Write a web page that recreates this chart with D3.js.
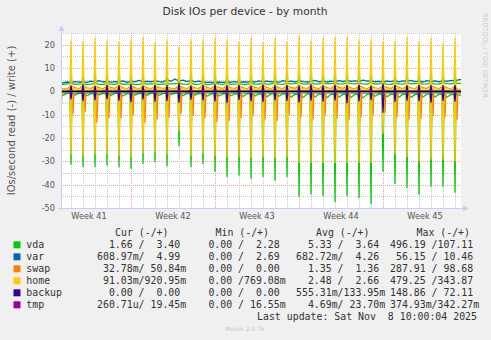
<!DOCTYPE html>
<html>
<head>
<meta charset="utf-8">
<script src="https://cdn.jsdelivr.net/npm/d3@7"></script>
<style>
  html, body { margin: 0; padding: 0; background: #F0F0F0; }
  svg { display: block; }
  .mono { font-family: "DejaVu Sans Mono", monospace; }
  .sans { font-family: "DejaVu Sans", sans-serif; }
</style>
</head>
<body>
<svg id="chart" width="491" height="340"></svg>
<script>
// ---------------------------------------------------------------------------
// Data: Disk IOs per device, month view (2 h per pixel, UTC)
// ---------------------------------------------------------------------------
const HOUR = 3600e3;
const viewStart = Date.UTC(2025, 9, 7, 4);   // Tue Oct 7 04:00
const viewEnd   = Date.UTC(2025, 10, 9, 12); // Sun Nov 9 12:00
const sampleStart = Date.UTC(2025, 9, 7, 0); // first baseline sample / first nightly job

const devices = ["vda", "var", "swap", "home", "backup", "tmp"];
const deviceColors = ["#00CC00", "#0066B3", "#FF8000", "#FFCC00", "#330099", "#990099"];

const yTicks = [-50, -40, -30, -20, -10, 0, 10, 20];

// Baselines sampled every 8 h (00:00, 08:00, 16:00), Oct 7 00:00 .. Nov 9 16:00
const vdaWriteBase = [
  3.1,3.0,3.2, 3.3,3.0,3.1, 3.2,2.9,3.1, 3.3,3.0,3.0, 3.2,3.1,3.0, 3.4,3.0,3.1, 3.2,2.9,3.0, 3.3,3.1,3.2, 3.2,3.0,3.1, 3.1,3.2,3.3,
  3.4,3.1,3.0, 3.3,3.0,3.1, 3.3,2.9,3.0, 3.4,3.1,3.0, 3.3,3.0,3.1, 3.2,3.0,3.0, 3.3,3.1,3.1, 3.4,3.0,3.2, 3.3,3.1,3.0, 3.4,3.2,3.3,
  3.5,3.2,3.1, 3.4,3.1,3.2, 3.5,3.2,3.3, 3.4,3.1,3.2, 3.5,3.3,3.2, 3.4,3.2,3.1, 3.5,3.1,3.2, 3.3,3.1,3.0, 3.4,3.2,3.1, 3.5,3.2,3.3,
  3.4,3.1,3.2, 3.4,3.2,3.1, 3.5,3.3,3.2, 3.4,3.40,3.40
];
const vdaReadBase = [
  -1.0,-1.8,-0.9, -0.9,-1.6,-0.8, -1.0,-1.9,-1.0, -0.9,-1.5,-0.9, -1.1,-1.7,-0.8, -1.0,-2.0,-1.0, -0.9,-1.6,-0.9, -1.0,-1.7,-0.8, -0.9,-1.8,-0.9, -0.8,-1.4,-0.8,
  -1.0,-1.9,-1.0, -0.9,-1.6,-0.9, -1.1,-2.1,-1.1, -1.0,-2.0,-1.0, -1.1,-1.9,-1.1, -1.0,-2.2,-1.0, -1.1,-2.0,-1.1, -1.2,-2.3,-1.1, -1.1,-2.1,-1.0, -1.2,-2.5,-1.2,
  -1.3,-2.6,-1.2, -1.2,-2.4,-1.1, -1.3,-2.7,-1.3, -1.2,-2.5,-1.2, -1.3,-2.6,-1.2, -1.4,-2.8,-1.3, -1.1,-2.1,-1.1, -1.2,-2.3,-1.2, -1.3,-2.5,-1.2, -1.3,-2.6,-1.3,
  -1.2,-2.4,-1.2, -1.2,-2.4,-1.2, -1.3,-2.5,-1.3, -1.4,-1.66,-1.66
];
const varWriteBase = [
  3.8,3.6,4.0, 3.7,4.2,3.9, 4.1,3.8,4.4, 3.9,4.6,4.0, 4.3,3.9,4.2, 4.0,4.5,3.8, 4.4,4.1,4.7, 4.0,4.3,4.1, 4.5,4.2,4.0, 5.0,4.3,5.3,
  4.4,4.8,4.2, 4.6,4.1,4.4, 4.0,3.8,3.9, 3.7,4.0,3.8, 4.1,3.9,4.2, 3.8,4.1,3.9, 4.3,4.0,4.5, 4.0,4.4,4.1, 4.2,3.9,4.6, 4.1,4.4,4.0,
  4.6,4.2,4.0, 4.3,4.7,4.1, 4.5,4.0,4.4, 4.1,4.6,4.2, 4.7,4.3,4.5, 4.2,4.8,4.4, 4.5,4.1,4.3, 4.0,4.4,4.2, 4.6,4.1,4.5, 4.3,4.7,4.2,
  4.4,4.0,4.6, 4.2,4.5,4.1, 4.6,4.3,4.7, 4.4,4.99,4.99
];
const swapWriteBase = [
  1.2,1.1,1.0, 2.3,1.6,1.1, 2.5,1.5,1.2, 2.2,1.6,1.1, 2.4,1.7,1.2, 2.6,1.5,1.1, 2.3,1.6,1.0, 2.4,1.5,1.1, 2.2,1.6,1.2, 1.8,1.3,1.0,
  2.5,1.6,1.1, 2.3,1.5,1.2, 2.6,1.7,1.1, 2.4,1.6,1.2, 2.5,1.5,1.1, 2.3,1.6,1.0, 2.4,1.7,1.2, 2.6,1.6,1.1, 2.3,1.5,1.1, 2.5,1.7,1.2,
  2.4,1.6,1.1, 2.5,1.5,1.2, 2.3,1.6,1.1, 2.6,1.7,1.2, 2.4,1.5,1.0, 2.5,1.6,1.1, 2.2,1.5,1.1, 2.4,1.6,1.2, 2.5,1.7,1.1, 2.3,1.5,1.1,
  2.4,1.6,1.2, 2.5,1.6,1.1, 2.4,1.5,1.0, 2.2,0.05,0.05
];
const homeWriteBase = [
  0.9,0.9,0.85, 0.9,1.1,0.9, 0.9,1.2,0.9, 0.95,1.1,0.85, 0.9,1.0,0.9, 0.9,1.2,0.95, 0.9,1.1,0.85, 0.9,1.0,0.9, 0.95,1.1,0.9, 0.9,1.0,0.85,
  0.9,1.1,0.9, 0.9,1.2,0.9, 0.95,1.1,0.85, 0.9,1.0,0.9, 0.9,1.1,0.9, 0.9,1.2,0.85, 0.95,1.1,0.9, 0.9,1.0,0.9, 0.9,1.1,0.85, 0.95,1.2,0.9,
  0.9,1.1,0.9, 0.9,1.0,0.85, 0.95,1.2,0.9, 0.9,1.1,0.9, 0.9,1.0,0.85, 0.95,1.1,0.9, 0.9,1.2,0.9, 0.9,1.0,0.85, 0.95,1.1,0.9, 0.9,1.2,0.9,
  0.9,1.1,0.85, 0.95,1.0,0.9, 0.9,1.1,0.9, 0.9,0.92,0.92
];

// Baselines sampled daily at 00:00, Oct 7 .. Nov 10
const varReadBase = [-0.6,-0.7,-0.6,-0.65,-0.7,-0.6,-0.65,-0.6,-0.7,-0.75,-0.65,-0.6,-0.7,-0.65,-0.6,-0.7,-0.65,-0.6,
  -0.7,-0.65,-0.7,-0.6,-0.65,-0.7,-0.6,-0.65,-0.7,-0.6,-0.65,-0.7,-0.6,-0.65,-0.6,-0.61,-0.61];
const swapReadBase = [-0.05,-0.04,-0.06,-0.05,-0.04,-0.05,-0.06,-0.05,-0.04,-0.05,-0.06,-0.05,-0.04,-0.05,-0.05,-0.06,-0.04,-0.05,
  -0.05,-0.06,-0.05,-0.04,-0.05,-0.06,-0.05,-0.04,-0.05,-0.05,-0.06,-0.04,-0.05,-0.05,-0.04,-0.033,-0.033];
const homeReadBase = [-0.12,-0.1,-0.11,-0.09,-0.1,-0.12,-0.1,-0.11,-0.1,-0.09,-0.11,-0.1,-0.12,-0.1,-0.11,-0.1,-0.09,-0.1,
  -0.11,-0.12,-0.1,-0.1,-0.11,-0.09,-0.1,-0.12,-0.1,-0.11,-0.1,-0.09,-0.1,-0.11,-0.1,-0.091,-0.091];

// Nearly flat baselines: one value at the start and one at the end of the window
const backupReadBase = [0, 0];
const backupWriteBase = [0, 0];
const tmpReadBase = [-0.004, -0.00026];
const tmpWriteBase = [0.024, 0.019];

// Nightly job peaks, one per night at 00:00, Oct 7 .. Nov 9 (34 nights)
const homeWritePeak = [22.0, 21.7,21.3,22.6,21.7,21.3,22.2,23.0,20.9,22.2,19.1,22.2,22.2,22.6,22.2,21.3,22.6,20.9,
  22.6,21.3,23.4,21.7,22.6,23.0,23.0,22.2,22.2,21.3,21.3,23.0,21.3,22.6,20.4,22.6];
const homeReadPeak = [-27, -27,-27.5,-27,-27,-27.5,-28,-26.5,-26,-27,-17,-27.5,-26.5,-27.5,-28,-28,-28.5,-28,
  -28.5,-28,-30.5,-30.5,-30.5,-30.5,-30.5,-30.5,-30.5,-18,-27,-28,-30,-29,-29,-30];
const vdaReadPeak = [-31.0, -31.2,-32.2,-32.2,-31.6,-32.3,-33.0,-30.9,-30.2,-31.9,-23.3,-32.2,-30.9,-34.3,-36.5,-35.9,-37.2,-36.5,
  -38.1,-36.5,-45.0,-44.0,-44.7,-47.3,-44.7,-45.5,-48.1,-34.3,-39.5,-41.2,-44.1,-40.7,-40.7,-43.3];
const vdaWritePeak = [8, 7.5,8,8,7.5,8,8.5,7.5,7,8,6,8,7.5,8,8.5,8,8.5,8,9,8.5,9.5,9,9.5,9.5,9,9.5,9.5,7,8,8.5,9,8.5,8.5,9];
// swap reads dip a little after the job starts (04:00)
const swapReadPeak = [-11.3, -9.6,-8.6,-13.2,-11.3,-11.3,-10.3,-13.4,-11.8,-11.1,-9.5,-10.3,-11.3,-12.9,-12.5,-11.3,-10.5,-12,
  -12.5,-10,-11,-12,-10.5,-11.5,-12,-11,-10.5,-9,-11,-12,-11.5,-10.5,-11,-12];
const backupWritePeak = [2.5,2.3,2.8,2.1,2.6,2.4,3.0,2.2,2.7,2.5,3.4,2.3,2.6,2.9,2.4,2.7,2.2,2.8,2.5,2.6,2.3,2.9,2.4,2.7,
  2.5,2.8,2.2,3.1,2.6,2.4,2.7,2.5,2.3,2.6];
const backupReadPeak = [-3.5,-3.2,-4.0,-3.6,-3.1,-3.8,-4.4,-3.3,-4.2,-3.9,-4.6,-3.4,-3.7,-4.1,-4.8,-3.5,-4.0,-4.3,-3.6,-3.9,
  -4.5,-3.8,-4.2,-3.7,-4.9,-4.1,-3.6,-8.9,-4.3,-3.8,-4.0,-4.6,-3.9,-4.2];

// Legend statistics: [read, write] per device
const statCur = [[1.66, 3.40], [0.60897, 4.99], [0.03278, 0.05084], [0.09103, 0.92095], [0, 0], [0.00026071, 0.01945]];
const statMin = [[0, 2.28], [0, 2.69], [0, 0], [0, 0.76908], [0, 0], [0, 0.01655]];
const statAvg = [[5.33, 3.64], [0.68272, 4.26], [1.35, 1.36], [2.48, 2.66], [0.55531, 0.13395], [0.00469, 0.02370]];
const statMax = [[496.19, 107.11], [56.15, 10.46], [287.91, 98.68], [479.25, 343.87], [148.86, 72.11], [0.37493, 0.34227]];
const statHeaders = ["Cur (-/+)", "Min (-/+)", "Avg (-/+)", "Max (-/+)"];
const lastUpdate = "Last update: Sat Nov  8 10:00:04 2025";

// ---------------------------------------------------------------------------
// Series: read (drawn below zero) and write lines for every device
// ---------------------------------------------------------------------------
const seriesDefs = [
  { dev: 0, base: vdaReadBase,     stepH: 8,   peaks: vdaReadPeak,     peakH: 0 },
  { dev: 0, base: vdaWriteBase,    stepH: 8,   peaks: vdaWritePeak,    peakH: 0 },
  { dev: 1, base: varReadBase,     stepH: 24,  peaks: null },
  { dev: 1, base: varWriteBase,    stepH: 8,   peaks: null },
  { dev: 2, base: swapReadBase,    stepH: 24,  peaks: swapReadPeak,    peakH: 4 },
  { dev: 2, base: swapWriteBase,   stepH: 8,   peaks: null },
  { dev: 3, base: homeReadBase,    stepH: 24,  peaks: homeReadPeak,    peakH: 0 },
  { dev: 3, base: homeWriteBase,   stepH: 8,   peaks: homeWritePeak,   peakH: 0 },
  { dev: 4, base: backupReadBase,  stepH: 840, peaks: backupReadPeak,  peakH: 0 },
  { dev: 4, base: backupWriteBase, stepH: 840, peaks: backupWritePeak, peakH: 0 },
  { dev: 5, base: tmpReadBase,     stepH: 840, peaks: null },
  { dev: 5, base: tmpWriteBase,    stepH: 840, peaks: null }
];

// Baseline samples plus the nightly peaks; each peak lasts one 2 h sample.
function buildPoints(def) {
  const basePts = def.base.map((v, i) => ({ t: sampleStart + i * def.stepH * HOUR, v }));
  if (!def.peaks) return basePts;
  const peakTimes = def.peaks.map((_, k) => sampleStart + (k * 24 + def.peakH) * HOUR);
  const kept = basePts.filter(p => !peakTimes.some(t => Math.abs(p.t - t) <= 2 * HOUR));
  const extra = [];
  def.peaks.forEach((v, k) => {
    const t = peakTimes[k];
    let level = basePts[0].v;
    basePts.forEach(p => { if (p.t <= t) level = p.v; });
    extra.push({ t: t - 2 * HOUR, v: level }, { t, v }, { t: t + 2 * HOUR, v: level });
  });
  return kept.concat(extra).sort((a, b) => a.t - b.t);
}

// ---------------------------------------------------------------------------
// Drawing
// ---------------------------------------------------------------------------
const svg = d3.select("#chart");
const plot = { left: 61, right: 461, top: 33, bottom: 208 };
const nb = s => s.replace(/ /g, "\u00A0");   // keep the monospace columns

const x = d3.scaleUtc().domain([viewStart, viewEnd]).range([plot.left, plot.right]);
const y = d3.scaleLinear().domain([-50, 25]).range([plot.bottom, plot.top]);

svg.append("rect").attr("width", 491).attr("height", 340).attr("fill", "#F0F0F0");
svg.append("rect")
  .attr("x", plot.left).attr("y", plot.top)
  .attr("width", plot.right - plot.left).attr("height", plot.bottom - plot.top)
  .attr("fill", "#FFFFFF");

// Title
svg.append("text").attr("class", "sans")
  .attr("x", 245).attr("y", 14.5).attr("text-anchor", "middle")
  .attr("font-size", 10.7).attr("fill", "#333")
  .text("Disk IOs per device - by month");

// Grid
const grid = svg.append("g");
const minorColor = "#C8C8C8", majorColor = "#E8A0A0";
const yGrid = d3.range(-45, 26, 5);
yGrid.forEach(v => {
  const major = v % 10 === 0;
  grid.append("line")
    .attr("x1", plot.left).attr("x2", plot.right)
    .attr("y1", Math.round(y(v)) + 0.5).attr("y2", Math.round(y(v)) + 0.5)
    .attr("stroke", major ? majorColor : minorColor)
    .attr("stroke-dasharray", "1,1");
});
const days = d3.utcDay.range(viewStart, viewEnd);
days.forEach(d => {
  const monday = d.getUTCDay() === 1;
  const xp = Math.round(x(d)) + 0.5;
  grid.append("line")
    .attr("x1", xp).attr("x2", xp)
    .attr("y1", plot.top).attr("y2", plot.bottom)
    .attr("stroke", monday ? majorColor : minorColor)
    .attr("stroke-dasharray", "1,1");
});

// Data lines
const clip = svg.append("clipPath").attr("id", "plotClip");
clip.append("rect").attr("x", plot.left).attr("y", plot.top)
  .attr("width", plot.right - plot.left).attr("height", plot.bottom - plot.top);

const line = d3.line().x(p => x(p.t)).y(p => y(p.v));
const lines = svg.append("g").attr("clip-path", "url(#plotClip)");
seriesDefs.forEach(def => {
  lines.append("path")
    .datum(buildPoints(def))
    .attr("d", line)
    .attr("fill", "none")
    .attr("stroke", deviceColors[def.dev])
    .attr("stroke-width", 1.3)
    .attr("stroke-linejoin", "round");
});
// zero line
lines.append("line")
  .attr("x1", plot.left).attr("x2", plot.right)
  .attr("y1", Math.round(y(0)) + 0.5).attr("y2", Math.round(y(0)) + 0.5)
  .attr("stroke", "#000").attr("stroke-width", 1);

// Axes with arrows
const axisColor = "#C6CEF4";
svg.append("line")
  .attr("x1", plot.left + 0.5).attr("x2", plot.left + 0.5)
  .attr("y1", plot.bottom + 3).attr("y2", 30)
  .attr("stroke", axisColor);
svg.append("path")
  .attr("d", `M${plot.left - 2.5},31 L${plot.left + 3.5},31 L${plot.left + 0.5},25 Z`)
  .attr("fill", axisColor);
svg.append("line")
  .attr("x1", plot.left - 3).attr("x2", plot.right + 3)
  .attr("y1", plot.bottom + 0.5).attr("y2", plot.bottom + 0.5)
  .attr("stroke", axisColor);
svg.append("path")
  .attr("d", `M${plot.right + 2},${plot.bottom - 2.5} L${plot.right + 2},${plot.bottom + 3.5} L${plot.right + 8},${plot.bottom + 0.5} Z`)
  .attr("fill", axisColor);

// Y tick labels
svg.append("g").selectAll("text").data(yTicks).join("text")
  .attr("class", "sans")
  .attr("x", 55).attr("y", d => y(d)).attr("dy", "0.35em")
  .attr("text-anchor", "end").attr("font-size", 8.2).attr("fill", "#555")
  .text(d => d);

// X labels: one per ISO week, centred on the middle of the week
const mondays = d3.utcMonday.range(d3.utcMonday.offset(viewStart, -1), viewEnd);
const weekLabels = mondays
  .map(m => ({ t: +m + 3.5 * 24 * HOUR, label: "Week " + d3.utcFormat("%V")(m) }))
  .filter(w => x(w.t) > plot.left + 10 && x(w.t) < plot.right - 10);
svg.append("g").selectAll("text").data(weekLabels).join("text")
  .attr("class", "sans")
  .attr("x", d => x(d.t)).attr("y", 218.5)
  .attr("text-anchor", "middle").attr("font-size", 8.2).attr("fill", "#555")
  .text(d => d.label);

// Y axis title
svg.append("text").attr("class", "sans")
  .attr("transform", `translate(15,${(plot.top + plot.bottom) / 2}) rotate(-90)`)
  .attr("text-anchor", "middle").attr("font-size", 10).attr("fill", "#555")
  .text("IOs/second read (-) / write (+)");

// Vertical credit on the right
svg.append("text").attr("class", "sans")
  .attr("transform", "translate(482.5,13) rotate(90)")
  .attr("font-size", 6.6).attr("fill", "#CCCCCC")
  .text("RRDTOOL / TOBI OETIKER");

// Legend
function si(v) {
  if (v === 0) return "  0.00 ";
  const a = Math.abs(v);
  if (a < 1e-3) return d3.format("6.2f")(v * 1e6) + "u";
  if (a < 1) return d3.format("6.2f")(v * 1e3) + "m";
  return d3.format("6.2f")(v) + " ";
}
const legend = svg.append("g").attr("class", "mono").attr("font-size", 9.9).attr("fill", "#333");
const headerX = [115, 215.5, 316, 416.5];
const blockX = [97, 196.5, 296, 390];
statHeaders.forEach((h, i) => {
  legend.append("text").attr("x", headerX[i]).attr("y", 236).text(nb(h));
});
const stats = [statCur, statMin, statAvg, statMax];
devices.forEach((name, r) => {
  const yy = 248.3 + r * 12;
  svg.append("rect")
    .attr("x", 13.5).attr("y", yy - 7).attr("width", 7).attr("height", 7)
    .attr("fill", deviceColors[r]);
  legend.append("text").attr("x", 26.3).attr("y", yy).text(name);
  stats.forEach((s, c) => {
    legend.append("text").attr("x", blockX[c]).attr("y", yy)
      .text(nb(si(s[r][0]) + "/" + si(s[r][1])));
  });
});
legend.append("text").attr("x", 477).attr("y", 320.3).attr("text-anchor", "end").text(nb(lastUpdate));

svg.append("text").attr("class", "sans")
  .attr("x", 245).attr("y", 330.5).attr("text-anchor", "middle")
  .attr("font-size", 6).attr("fill", "#C8C8C8")
  .text("Munin 2.0.76");
</script>
</body>
</html>
